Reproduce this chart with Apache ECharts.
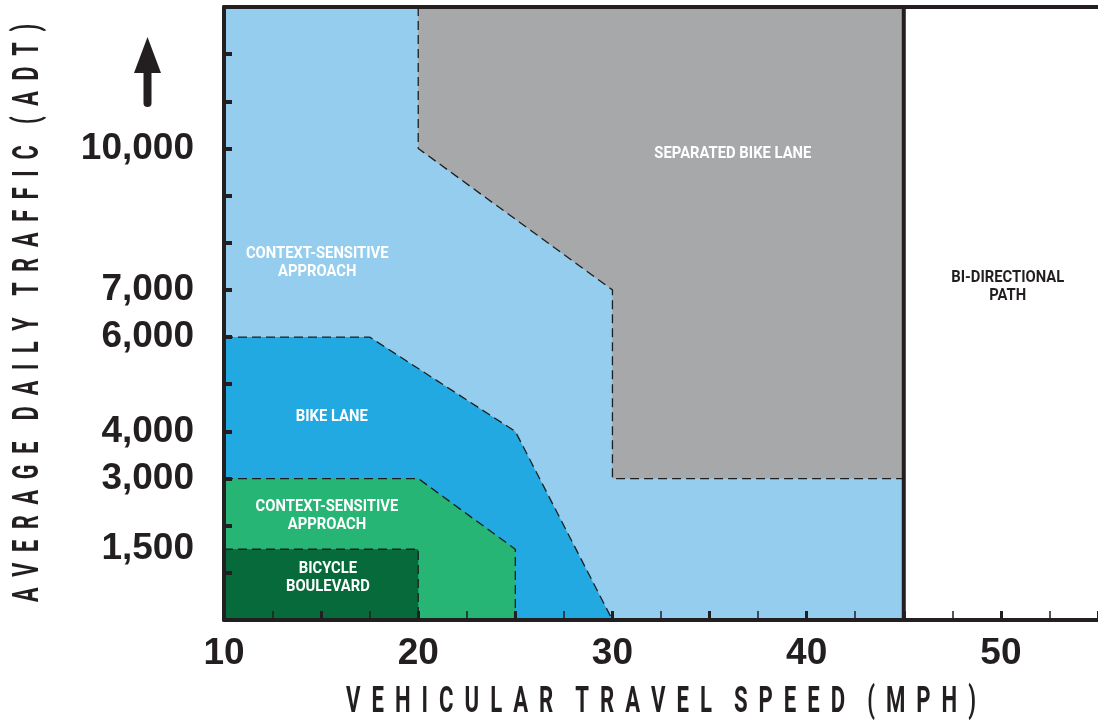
<!DOCTYPE html>
<html>
<head>
<meta charset="utf-8">
<title>Bikeway selection by speed and volume</title>
<script src="https://cdn.jsdelivr.net/npm/echarts@6/dist/echarts.min.js"></script>
<style>
  html, body { margin: 0; padding: 0; background: #ffffff; }
  #chart { width: 1098px; height: 723px; }
</style>
</head>
<body>
<div id="chart"></div>
<script>
// Axis extents and labelled values
const speedRange = [10, 55];          // MPH
const adtRange = [0, 13000];          // vehicles per day
const speedLabels = [10, 20, 30, 40, 50];
const adtLabels = [1500, 3000, 4000, 6000, 7000, 10000];
const adtTicks = [1000, 2000, 3000, 4000, 5000, 6000, 7000, 8000, 9000, 10000, 11000, 12000];

// Speed above which a bi-directional path is used
const pathSpeed = 45;

// Zone outlines: dashed edge as [speed, ADT] points, then the corner(s) that close it
const contextWideArea = [[10, 0], [10, 13000], [45, 13000], [45, 0]];
const separatedEdge = [[20, 13000], [20, 10000], [30, 7000], [30, 3000], [45, 3000]];
const separatedClose = [[45, 13000]];
const bikeLaneEdge = [[10, 6000], [17.5, 6000], [25, 4000], [30, 0]];
const bikeLaneClose = [[10, 0]];
const contextLowEdge = [[10, 3000], [20, 3000], [25, 1500], [25, 0]];
const contextLowClose = [[10, 0]];
const boulevardEdge = [[10, 1500], [20, 1500], [20, 0]];
const boulevardClose = [[10, 0]];

const xTitle = 'VEHICULAR TRAVEL SPEED (MPH)';
const yTitle = 'AVERAGE DAILY TRAFFIC (ADT)';

const INK = '#231f20';
const LABEL_FONT = 'bold 17px Roboto, "Liberation Sans", sans-serif';
const TITLE_FONT = 'bold 36px Roboto, "Liberation Sans", sans-serif';

// Spread capitals apart: two spaces between letters, four between words
function spaced(s) {
  return s.split(' ').map(w => w.split('').join('  ')).join('    ');
}

const zones = [
  { edge: [], close: contextWideArea, fill: '#95cdee',
    text: 'CONTEXT-SENSITIVE\nAPPROACH', at: [14.8, 7570], color: '#ffffff' },
  { edge: separatedEdge, close: separatedClose, fill: '#a7a8aa',
    text: 'SEPARATED BIKE LANE', at: [36.2, 9890], color: '#ffffff' },
  { edge: bikeLaneEdge, close: bikeLaneClose, fill: '#22a9e1',
    text: 'BIKE LANE', at: [15.55, 4310], color: '#ffffff' },
  { edge: contextLowEdge, close: contextLowClose, fill: '#26b574',
    text: 'CONTEXT-SENSITIVE\nAPPROACH', at: [15.3, 2220], color: '#ffffff' },
  { edge: boulevardEdge, close: boulevardClose, fill: '#066a3a',
    text: 'BICYCLE\nBOULEVARD', at: [15.35, 890], color: '#ffffff' },
  { edge: [], close: [], fill: null,
    text: 'BI-DIRECTIONAL\nPATH', at: [50.35, 7060], color: INK }
];

function renderZone(params, api) {
  const z = zones[api.value(0)];
  const children = [];
  const pts = z.edge.concat(z.close).map(p => api.coord(p));
  if (z.fill && pts.length > 2) {
    children.push({ type: 'polygon', shape: { points: pts }, style: { fill: z.fill }, silent: true });
  }
  if (z.edge.length > 1) {
    children.push({
      type: 'polyline',
      shape: { points: z.edge.map(p => api.coord(p)) },
      style: { stroke: '#1e1e1e', lineWidth: 1.3, lineDash: [9, 5], fill: null },
      silent: true
    });
  }
  const c = api.coord(z.at);
  children.push({
    type: 'text', x: c[0], y: c[1], scaleX: 0.87,
    style: {
      text: z.text, x: 0, y: 0, fill: z.color,
      font: LABEL_FONT, align: 'center', verticalAlign: 'middle', lineHeight: 18
    },
    silent: true
  });
  return { type: 'group', children: children };
}

function renderPathLine(params, api) {
  const a = api.coord([pathSpeed, adtRange[0]]);
  const b = api.coord([pathSpeed, adtRange[1]]);
  return {
    type: 'line',
    shape: { x1: a[0], y1: a[1], x2: b[0], y2: b[1] },
    style: { stroke: INK, lineWidth: 4 },
    silent: true
  };
}

const chart = echarts.init(document.getElementById('chart'), null, { renderer: 'canvas' });

chart.setOption({
  animation: false,
  backgroundColor: '#ffffff',
  grid: { left: 224, right: 0, top: 7, bottom: 103, containLabel: false, outerBoundsMode: 'none' },
  xAxis: [
    {
      type: 'value', min: speedRange[0], max: speedRange[1], interval: 5,
      axisLine: { show: true, onZero: false, lineStyle: { color: INK, width: 4 } },
      axisTick: { show: true, inside: true, length: 9, lineStyle: { color: INK, width: 3 } },
      minorTick: { show: true, splitNumber: 2, length: 9, lineStyle: { color: INK, width: 1.5 } },
      splitLine: { show: false },
      axisLabel: {
        customValues: speedLabels, margin: 15,
        fontFamily: 'Liberation Sans', fontWeight: 'bold', fontSize: 37, color: INK
      },
      z: 10
    },
    {
      type: 'value', position: 'top', min: speedRange[0], max: speedRange[1],
      axisLine: { show: true, onZero: false, lineStyle: { color: INK, width: 4 } },
      axisTick: { show: false }, axisLabel: { show: false }, splitLine: { show: false },
      z: 10
    }
  ],
  yAxis: {
    type: 'value', min: adtRange[0], max: adtRange[1],
    axisLine: { show: true, onZero: false, lineStyle: { color: INK, width: 4 } },
    axisTick: { show: true, inside: true, length: 8, customValues: adtTicks, lineStyle: { color: INK, width: 4 } },
    splitLine: { show: false },
    axisLabel: {
      customValues: adtLabels, margin: 30,
      formatter: v => v.toLocaleString('en-US'),
      fontFamily: 'Liberation Sans', fontWeight: 'bold', fontSize: 37, color: INK
    },
    z: 10
  },
  graphic: [
    {
      type: 'text', x: 661, y: 703, scaleX: 0.615,
      style: { text: spaced(xTitle), x: 0, y: 0, font: TITLE_FONT, fill: INK, align: 'center', verticalAlign: 'middle' }
    },
    {
      type: 'text', x: 29, y: 313, rotation: Math.PI / 2, scaleX: 0.6,
      style: { text: spaced(yTitle), x: 0, y: 0, font: TITLE_FONT, fill: INK, align: 'center', verticalAlign: 'middle' }
    },
    {
      type: 'group', x: 134, y: 37,
      children: [
        { type: 'polygon', shape: { points: [[13.5, 0], [0, 36], [27, 36]] }, style: { fill: INK } },
        { type: 'line', shape: { x1: 13.5, y1: 30, x2: 13.5, y2: 66 }, style: { stroke: INK, lineWidth: 8, lineCap: 'round' } }
      ]
    }
  ],
  series: [
    {
      type: 'custom', name: 'zones', coordinateSystem: 'cartesian2d',
      renderItem: renderZone, data: zones.map((z, i) => [i]), clip: true, z: 2
    },
    {
      type: 'custom', name: 'path limit', coordinateSystem: 'cartesian2d',
      renderItem: renderPathLine, data: [[pathSpeed]], z: 5
    }
  ]
});
</script>
</body>
</html>
